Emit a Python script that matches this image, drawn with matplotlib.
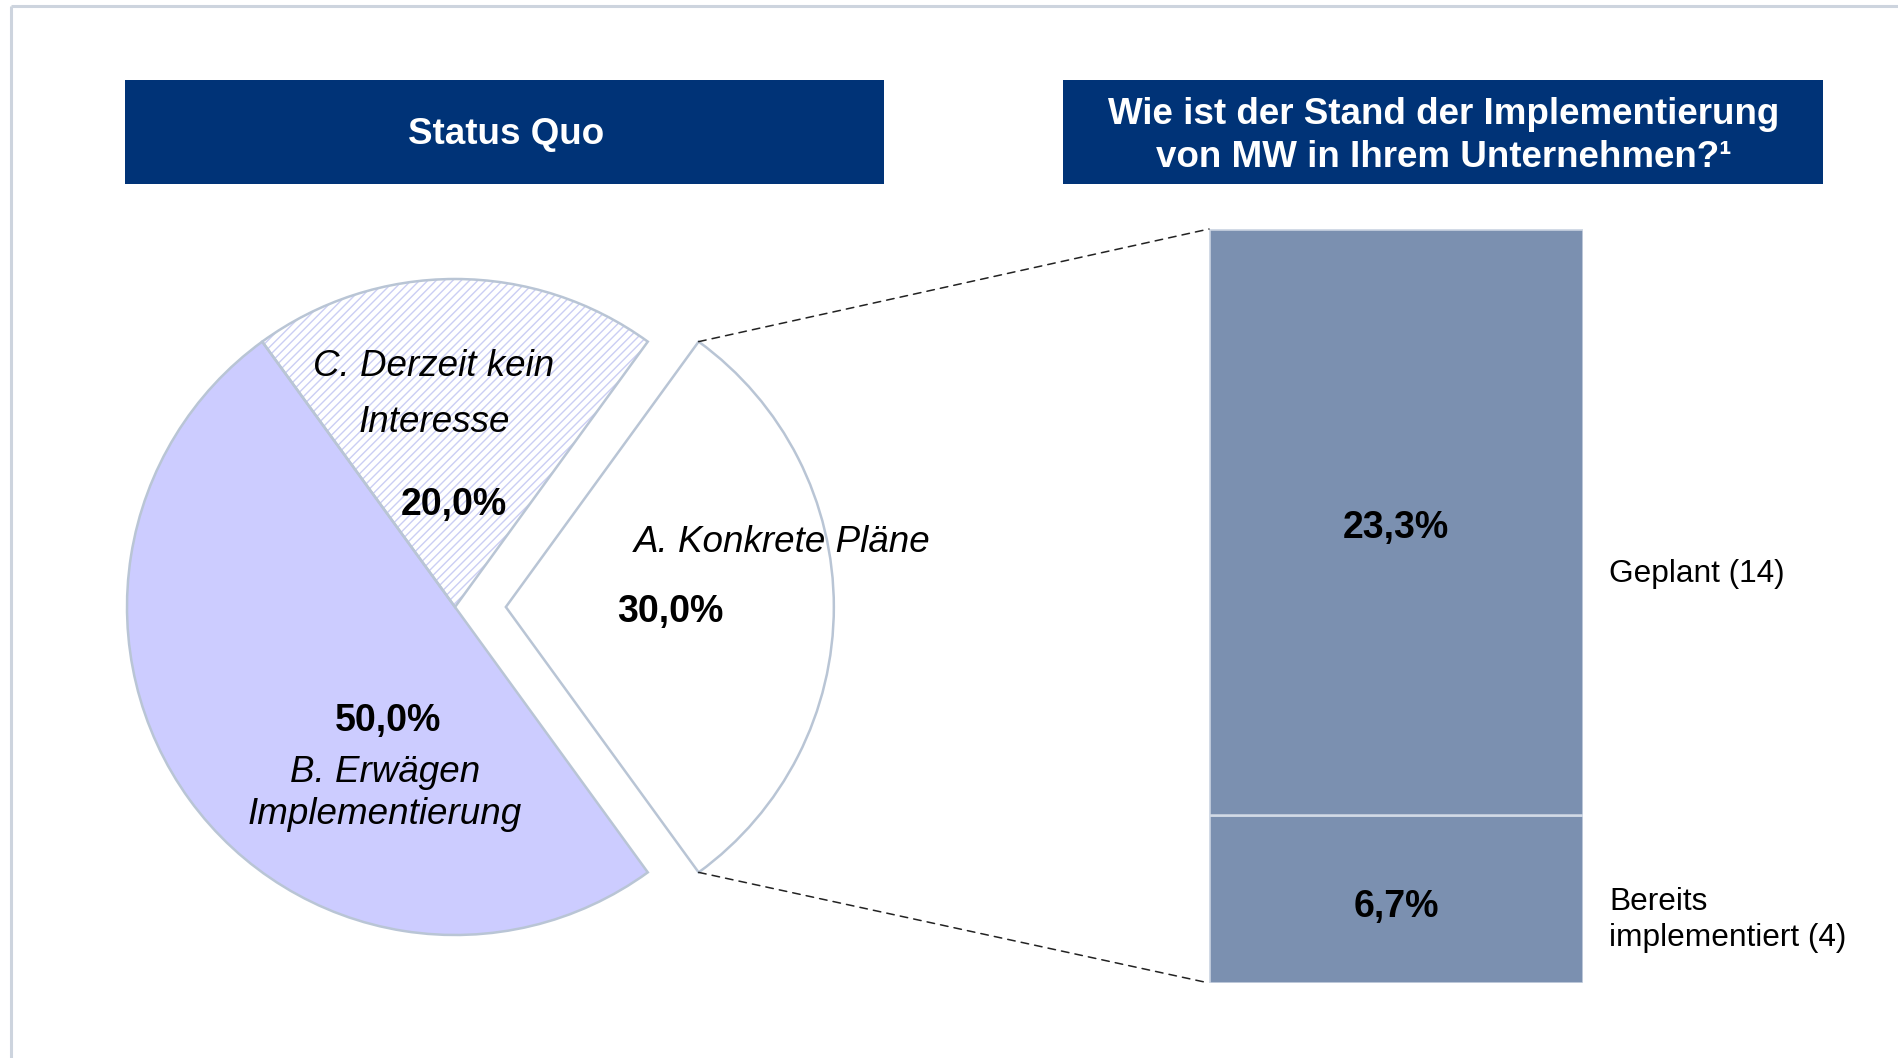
import numpy as np
import matplotlib
matplotlib.use("Agg")
import matplotlib.pyplot as plt
from matplotlib.patches import Rectangle, Wedge, ConnectionPatch

plt.rcParams['font.family'] = ['Liberation Sans', 'DejaVu Sans']
plt.rcParams['hatch.linewidth'] = 1.0

# ---------------- data ----------------
pie_labels = ["A. Konkrete Pläne", "C. Derzeit kein\nInteresse", "B. Erwägen\nImplementierung"]
pie_values = [30.0, 20.0, 50.0]
pie_pct_text = ["30,0%", "20,0%", "50,0%"]

bar_categories = ["Bereits\nimplementiert (4)", "Geplant (14)"]
bar_values = [6.7, 23.3]
bar_pct_text = ["6,7%", "23,3%"]

header_left = "Status Quo"
header_right = "Wie ist der Stand der Implementierung\nvon MW in Ihrem Unternehmen?¹"

# ---------------- figure ----------------
W, H = 1899, 1058
DPI = 100
fig = plt.figure(figsize=(W / DPI, H / DPI), dpi=DPI)
fig.patch.set_facecolor("white")


def px_axes(left, top, right, bottom):
    return fig.add_axes([left / W, 1 - bottom / H, (right - left) / W, (bottom - top) / H])


NAVY = "#003377"
EDGE = "#B9C5D5"
LAV = "#CCCCFF"
HATCH = "#CBCEF4"
BARC = "#7B90B0"

# ---------------- pie ----------------
R = 328.0
cx, cy = 455.0, 607.0
lim = 1.3
ax_pie = px_axes(cx - lim * R, cy - lim * R, cx + lim * R, cy + lim * R)
wedges, _ = ax_pie.pie(
    pie_values,
    startangle=-54,
    counterclock=True,
    radius=1.0,
    explode=[0.155, 0, 0],
    colors=["white", "white", LAV],
    wedgeprops=dict(edgecolor=EDGE, linewidth=1.8),
)
ax_pie.set_xlim(-lim, lim)
ax_pie.set_ylim(-lim, lim)
ax_pie.set_aspect("equal")
ax_pie.axis("off")

# hatched slice C: hatch drawn in lavender, outline re-drawn in grey
wc = wedges[1]
wc.set_hatch("////")
wc.set_edgecolor(HATCH)
wc.set_linewidth(0)
ax_pie.add_patch(Wedge(wc.center, wc.r, wc.theta1, wc.theta2,
                       facecolor="none", edgecolor=EDGE, linewidth=1.8, zorder=3))

# ---------------- bar ----------------
ax_bar = px_axes(1209, 229, 1583, 983)
bottom = 0.0
for v in bar_values:
    ax_bar.bar([0], [v], bottom=bottom, width=1.0, color=BARC,
               edgecolor="#D2DAE6", linewidth=1.8)
    bottom += v
ax_bar.set_xlim(-0.5, 0.5)
ax_bar.set_ylim(0, sum(bar_values))
ax_bar.axis("off")

# dashed connectors from slice A corners to bar corners
wa = wedges[0]
for th, yb in [(wa.theta2, 1.0), (wa.theta1, 0.0)]:
    xa = wa.center[0] + wa.r * np.cos(np.radians(th))
    ya = wa.center[1] + wa.r * np.sin(np.radians(th))
    con = ConnectionPatch(xyA=(xa, ya), coordsA=ax_pie.transData,
                          xyB=(0.0, yb), coordsB=ax_bar.transAxes,
                          linestyle=(0, (5, 4)), color="#222222", linewidth=1.1)
    fig.add_artist(con)

# ---------------- overlay (pixel coords) ----------------
ov = fig.add_axes([0, 0, 1, 1])
ov.set_xlim(0, W)
ov.set_ylim(H, 0)
ov.axis("off")
ov.patch.set_alpha(0)

# frame
ov.plot([11, W], [6, 6], color="#CDD4DE", linewidth=2.2, solid_capstyle="butt")
ov.plot([11, 11], [6, H], color="#CDD4DE", linewidth=2.2, solid_capstyle="butt")

# headers
ov.add_patch(Rectangle((125, 80), 759, 104, facecolor=NAVY, edgecolor="none"))
ov.add_patch(Rectangle((1063, 80), 760, 104, facecolor=NAVY, edgecolor="none"))
ov.text(506, 134, header_left, color="white", fontsize=26.5, fontweight="bold",
        ha="center", va="center")
ov.text(1444, 136, header_right, color="white", fontsize=26.5, fontweight="bold",
        ha="center", va="center", linespacing=1.3)

# pie labels
LBL = 26.5
dy = 4
ov.text(434, 363 + dy, pie_labels[1].split("\n")[0], fontsize=LBL, style="italic", ha="center", va="center")
ov.text(434, 418 + dy, pie_labels[1].split("\n")[1], fontsize=LBL, style="italic", ha="center", va="center")
ov.text(454, 501 + dy, pie_pct_text[1], fontsize=27, fontweight="bold", ha="center", va="center")

ov.text(782, 538 + dy, pie_labels[0], fontsize=LBL, style="italic", ha="center", va="center")
ov.text(670, 608 + dy, pie_pct_text[0], fontsize=27, fontweight="bold", ha="center", va="center")

ov.text(388, 717 + dy, pie_pct_text[2], fontsize=27, fontweight="bold", ha="center", va="center")
ov.text(385, 768 + dy, pie_labels[2].split("\n")[0], fontsize=LBL, style="italic", ha="center", va="center")
ov.text(385, 811 + dy, pie_labels[2].split("\n")[1], fontsize=LBL, style="italic", ha="center", va="center")

# bar labels
bx = 1396
ov.text(bx, 524 + dy, bar_pct_text[1], fontsize=27, fontweight="bold", ha="center", va="center")
ov.text(bx, 903 + dy, bar_pct_text[0], fontsize=27, fontweight="bold", ha="center", va="center")
ov.text(1609, 570 + dy, bar_categories[1], fontsize=22.8, ha="left", va="center")
ov.text(1609, 916 + dy, bar_categories[0], fontsize=22.8, ha="left", va="center", linespacing=1.25)

fig.savefig("out.png", dpi=DPI, facecolor="white")
